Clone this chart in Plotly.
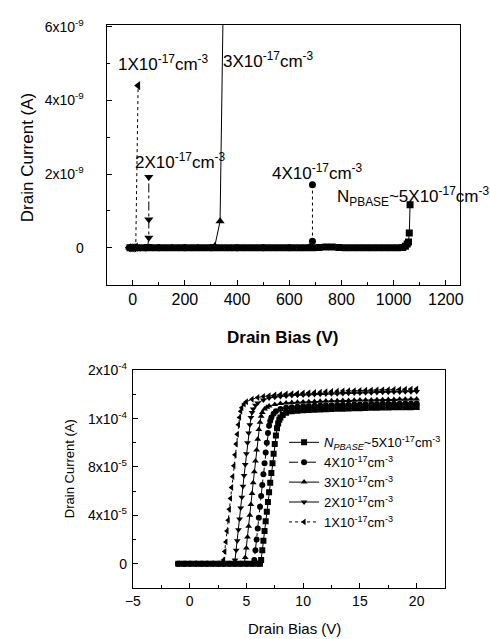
import plotly.graph_objects as go

# ---------------- Top chart: breakdown (Drain Bias V, Drain Current nA) ----------------
top_v_5e17 = [-10, 15, 40, 65, 90, 115, 140, 165, 190, 215, 240, 265, 290, 315, 340, 365, 390, 415,
              440, 465, 490, 515, 540, 565, 590, 615, 640, 665, 690, 715, 740, 765, 790, 815, 840,
              865, 890, 915, 940, 965, 990, 1015, 1035, 1045, 1052, 1057, 1060, 1063]
top_i_5e17 = [0, 0, 0, 0, 0, 0, 0, 0, 0, 0, 0, 0, 0, 0, 0, 0, 0, 0,
              0, 0, 0, 0, 0, 0, 0, 0, 0, 0, 0, 0.01, 0.02, 0.02, 0.01, 0, 0,
              0, 0, 0, 0, 0, 0, 0, 0.01, 0.04, 0.1, 0.16, 0.4, 1.17]
top_v_4e17 = [-10, 100, 200, 300, 400, 500, 600, 680, 689, 689]
top_i_4e17 = [0, 0, 0, 0, 0, 0, 0, 0.02, 0.18, 1.71]
top_v_3e17 = [-10, 50, 100, 150, 200, 250, 300, 315, 335, 347]
top_i_3e17 = [0, 0, 0, 0, 0, 0, 0, 0.05, 0.72, 6.6]
top_v_2e17 = [-10, 10, 30, 50, 58, 62, 62, 62]
top_i_2e17 = [0, 0, 0, 0, 0.05, 0.27, 0.77, 1.92]
top_v_1e17 = [-15, -8, -1, 6, 12, 21]
top_i_1e17 = [0, 0, 0, 0, 0.02, 4.4]

top_ytickvals = [0, 2e-9, 4e-9, 6e-9]
top_yticktext = ["0", "2x10<sup>-9</sup>", "4x10<sup>-9</sup>", "6x10<sup>-9</sup>"]

# ---------------- Bottom chart: transfer curves (Drain Bias V, Drain Current uA) ----------------
v_1e17 = [-1.0, -0.5, 0.0, 0.5, 1.0, 1.5, 2.0, 2.5, 2.9,
          3.0, 3.1, 3.2, 3.3, 3.4, 3.5, 3.6, 3.7, 3.8, 3.9, 4.0, 4.1, 4.2, 4.3, 4.4, 4.5, 4.6,
          4.8, 5.0,
          5.5, 6.0, 6.5, 7.0, 7.5, 8.0, 8.5, 9.0, 9.5, 10.0, 10.5, 11.0, 11.5, 12.0, 12.5, 13.0,
          13.5, 14.0, 14.5, 15.0, 15.5, 16.0, 16.5, 17.0, 17.5, 18.0, 18.5, 19.0, 19.5, 20.0]
i_1e17 = [0, 0, 0, 0, 0, 0, 0, 0, 0,
          3, 10, 18, 27, 36, 45, 54, 63, 72, 81, 90, 99, 107, 115, 121, 126, 129,
          132, 134,
          136, 137.5, 138.3, 139, 139.5, 140, 140.3, 140.6, 140.9, 141.2, 141.4, 141.7, 141.9, 142.2,
          142.4, 142.6, 142.8, 143, 143.1, 143.3, 143.4, 143.6, 143.7, 143.8, 143.9, 144.1, 144.2,
          144.3, 144.4, 144.5]

v_2e17 = [-1.0, -0.5, 0.0, 0.5, 1.0, 1.5, 2.0, 2.5, 3.0, 3.5, 3.9,
          4.0, 4.1, 4.2, 4.3, 4.4, 4.5, 4.6, 4.7, 4.8, 4.9, 5.0, 5.1, 5.2, 5.3, 5.4, 5.5, 5.6,
          5.8, 6.0,
          6.5, 7.0, 7.5, 8.0, 8.5, 9.0, 9.5, 10.0, 10.5, 11.0, 11.5, 12.0, 12.5, 13.0, 13.5, 14.0,
          14.5, 15.0, 15.5, 16.0, 16.5, 17.0, 17.5, 18.0, 18.5, 19.0, 19.5, 20.0]
i_2e17 = [0, 0, 0, 0, 0, 0, 0, 0, 0, 0, 0,
          3, 11, 19, 28, 37, 46, 55, 64, 73, 82, 91, 100, 108, 115, 121, 125, 128,
          131, 133,
          135.5, 137, 137.7, 138.3, 138.7, 139.1, 139.3, 139.5, 139.7, 139.9, 140.1, 140.3, 140.5,
          140.6, 140.8, 141, 141.1, 141.2, 141.4, 141.5, 141.6, 141.8, 141.9, 142, 142.1, 142.2,
          142.3, 142.4]

v_3e17 = [-1.0, -0.5, 0.0, 0.5, 1.0, 1.5, 2.0, 2.5, 3.0, 3.5, 4.0, 4.5, 4.8,
          4.9, 5.0, 5.1, 5.2, 5.3, 5.4, 5.5, 5.6, 5.7, 5.8, 5.9, 6.0, 6.1, 6.2, 6.3, 6.4,
          6.6, 6.8,
          7.0, 7.5, 8.0, 8.5, 9.0, 9.5, 10.0, 10.5, 11.0, 11.5, 12.0, 12.5, 13.0, 13.5, 14.0, 14.5,
          15.0, 15.5, 16.0, 16.5, 17.0, 17.5, 18.0, 18.5, 19.0, 19.5, 20.0]
i_3e17 = [0, 0, 0, 0, 0, 0, 0, 0, 0, 0, 0, 0, 0,
          5, 13, 22, 31, 40, 49, 58, 67, 76, 85, 94, 103, 111, 117, 122, 125,
          128, 129.5,
          130.5, 131.6, 132.5, 133, 133.3, 133.6, 133.8, 134, 134.2, 134.4, 134.5, 134.7, 134.8,
          134.9, 135, 135.2, 135.3, 135.4, 135.5, 135.6, 135.7, 135.8, 135.9, 136, 136.1, 136.2, 136.3]

v_4e17 = [-1.0, -0.5, 0.0, 0.5, 1.0, 1.5, 2.0, 2.5, 3.0, 3.5, 4.0, 4.5, 5.0, 5.5,
          5.7, 5.8, 5.9, 6.0, 6.1, 6.2, 6.3, 6.4, 6.5, 6.6, 6.7, 6.8, 6.9, 7.0, 7.1, 7.2,
          7.4, 7.6, 8.0,
          8.5, 9.0, 9.5, 10.0, 10.5, 11.0, 11.5, 12.0, 12.5, 13.0, 13.5, 14.0, 14.5, 15.0, 15.5,
          16.0, 16.5, 17.0, 17.5, 18.0, 18.5, 19.0, 19.5, 20.0]
i_4e17 = [0, 0, 0, 0, 0, 0, 0, 0, 0, 0, 0, 0, 0, 0,
          3, 11, 20, 29, 38, 47, 56, 65, 74, 83, 92, 100, 108, 114, 118, 121,
          124, 126, 128,
          128.9, 129.5, 129.9, 130.3, 130.5, 130.7, 130.9, 131, 131.1, 131.2, 131.4, 131.5, 131.6,
          131.7, 131.8, 132, 132.1, 132.2, 132.2, 132.3, 132.4, 132.5, 132.5, 132.6]

v_5e17 = [-1.0, -0.5, 0.0, 0.5, 1.0, 1.5, 2.0, 2.5, 3.0, 3.5, 4.0, 4.5, 5.0, 5.5, 6.0, 6.2,
          6.3, 6.4, 6.5, 6.6, 6.7, 6.8, 6.9, 7.0, 7.1, 7.2, 7.3, 7.4, 7.5, 7.6, 7.7, 7.8, 7.9,
          8.0, 8.2, 8.5,
          9.0, 9.5, 10.0, 10.5, 11.0, 11.5, 12.0, 12.5, 13.0, 13.5, 14.0, 14.5, 15.0, 15.5, 16.0,
          16.5, 17.0, 17.5, 18.0, 18.5, 19.0, 19.5, 20.0]
i_5e17 = [0, 0, 0, 0, 0, 0, 0, 0, 0, 0, 0, 0, 0, 0, 0, 0,
          3, 11, 19, 27, 35, 43, 51, 59, 67, 75, 83, 91, 99, 106, 112, 116, 119,
          121, 123, 124.8,
          126, 126.5, 127, 127.2, 127.4, 127.6, 127.8, 127.9, 128.1, 128.2, 128.4, 128.5, 128.6,
          128.8, 128.9, 129, 129.1, 129.2, 129.3, 129.4, 129.5, 129.5, 129.6]

bot_ytickvals = [0, 4e-5, 8e-5, 1.2e-4, 1.6e-4]
bot_yticktext = ["0", "4x10<sup>-5</sup>", "8x10<sup>-5</sup>", "1x10<sup>-4</sup>", "2x10<sup>-4</sup>"]

legend_names = ["<i>N</i><sub><i>PBASE</i></sub>~5X10<sup>-17</sup>cm<sup>-3</sup>",
                "4X10<sup>-17</sup>cm<sup>-3</sup>",
                "3X10<sup>-17</sup>cm<sup>-3</sup>",
                "2X10<sup>-17</sup>cm<sup>-3</sup>",
                "1X10<sup>-17</sup>cm<sup>-3</sup>"]

FONT = "Liberation Sans, Arial, sans-serif"
BLACK = "#000000"

fig = go.Figure()

# ---- top traces ----
top_series = [
    (top_v_5e17, top_i_5e17, "square", "solid", 7),
    (top_v_4e17, top_i_4e17, "circle", "dot", 7),
    (top_v_3e17, top_i_3e17, "triangle-up", "solid", 8),
    (top_v_2e17, top_i_2e17, "triangle-down", "dashdot", 8),
    (top_v_1e17, top_i_1e17, "triangle-left", "dot", 8),
]
for vx, iy, sym, dash, size in top_series:
    fig.add_trace(go.Scatter(
        x=vx, y=[v * 1e-9 for v in iy], mode="lines+markers",
        line=dict(color=BLACK, width=1, dash=dash),
        marker=dict(symbol=sym, size=size, color=BLACK),
        xaxis="x", yaxis="y", showlegend=False, cliponaxis=True))

# ---- bottom traces ----
bot_series = [
    (v_5e17, i_5e17, "square", "solid"),
    (v_4e17, i_4e17, "circle", "dashdot"),
    (v_3e17, i_3e17, "triangle-up", "solid"),
    (v_2e17, i_2e17, "triangle-down", "solid"),
    (v_1e17, i_1e17, "triangle-left", "dot"),
]
for (vx, iy, sym, dash), name in zip(bot_series, legend_names):
    fig.add_trace(go.Scatter(
        x=vx, y=[v * 1e-6 for v in iy], mode="lines+markers", name=name,
        line=dict(color=BLACK, width=1, dash=dash),
        marker=dict(symbol=sym, size=6, color=BLACK),
        xaxis="x2", yaxis="y2"))

axis_common = dict(showline=True, linecolor=BLACK, linewidth=1, mirror=True,
                   showgrid=False, zeroline=False, ticks="inside", tickcolor=BLACK,
                   ticklen=5, tickwidth=1)

W, H = 490, 639
def px_x(a, b):
    return [a / W, b / W]
def px_y(top, bottom):
    return [1 - bottom / H, 1 - top / H]

fig.update_layout(
    width=W, height=H, margin=dict(l=0, r=0, t=0, b=0),
    paper_bgcolor="white", plot_bgcolor="white",
    font=dict(family=FONT, color=BLACK),
    xaxis=dict(domain=px_x(101, 463), range=[-100, 1253], anchor="y",
               tickmode="linear", tick0=0, dtick=200,
               tickfont=dict(size=16, family=FONT),
               minor=dict(ticks="inside", ticklen=3, tickcolor=BLACK, dtick=100, tick0=0),
               **axis_common),
    yaxis=dict(domain=px_y(15, 279), range=[-1.0e-9, 6.05e-9], anchor="x",
               tickmode="array", tickvals=top_ytickvals, ticktext=top_yticktext,
               tickfont=dict(size=14, family=FONT), ticklabelstandoff=19,
               minor=dict(ticks="inside", ticklen=3, tickcolor=BLACK, tickmode="linear",
                          dtick=1e-9, tick0=0),
               **axis_common),
    xaxis2=dict(domain=px_x(128, 448), range=[-5, 22.5], anchor="y2",
                tickmode="linear", tick0=0, dtick=5,
                tickfont=dict(size=14, family=FONT),
                minor=dict(ticks="inside", ticklen=3, tickcolor=BLACK, dtick=2.5, tick0=0),
                **axis_common),
    yaxis2=dict(domain=px_y(366, 587), range=[-2e-5, 1.6e-4], anchor="x2",
                tickmode="array", tickvals=bot_ytickvals, ticktext=bot_yticktext,
                tickfont=dict(size=14, family=FONT), ticklabelstandoff=2,
                minor=dict(ticks="inside", ticklen=3, tickcolor=BLACK, tickmode="linear",
                           dtick=2e-5, tick0=0),
                **axis_common),
    legend=dict(x=283 / W, y=1 - 424 / H, xanchor="left", yanchor="top",
                bgcolor="rgba(0,0,0,0)", borderwidth=0,
                font=dict(size=13, family=FONT), itemwidth=30, tracegroupgap=0),
)

# axis titles
fig.add_annotation(text="<b>Drain Bias (V)</b>", x=281 / W, y=1 - 333 / H, xref="paper", yref="paper",
                   showarrow=False, font=dict(size=17, family=FONT), xanchor="center", yanchor="middle")
fig.add_annotation(text="Drain Current (A)", x=20 / W, y=1 - 150 / H, xref="paper", yref="paper",
                   showarrow=False, textangle=-90, font=dict(size=17, family=FONT),
                   xanchor="center", yanchor="middle")
fig.add_annotation(text="Drain Bias (V)", x=294 / W, y=1 - 628 / H, xref="paper", yref="paper",
                   showarrow=False, font=dict(size=15, family=FONT), xanchor="center", yanchor="middle")
fig.add_annotation(text="Drain Current (A)", x=63 / W, y=1 - 466 / H, xref="paper", yref="paper",
                   showarrow=False, textangle=-90, font=dict(size=13, family=FONT),
                   xanchor="center", yanchor="middle")

# curve labels in the top chart
top_labels = [
    ("1X10<sup>-17</sup>cm<sup>-3</sup>", -65, 5.0e-9),
    ("3X10<sup>-17</sup>cm<sup>-3</sup>", 339, 5.1e-9),
    ("2X10<sup>-17</sup>cm<sup>-3</sup>", 3, 2.35e-9),
    ("4X10<sup>-17</sup>cm<sup>-3</sup>", 526, 2.05e-9),
    ("N<sub>PBASE</sub>~5X10<sup>-17</sup>cm<sup>-3</sup>", 776, 1.4e-9),
]
for txt, lx, ly in top_labels:
    fig.add_annotation(text=txt, x=lx, y=ly, xref="x", yref="y", showarrow=False,
                       xanchor="left", yanchor="middle", font=dict(size=17, family=FONT))

fig.write_html("out.html")
